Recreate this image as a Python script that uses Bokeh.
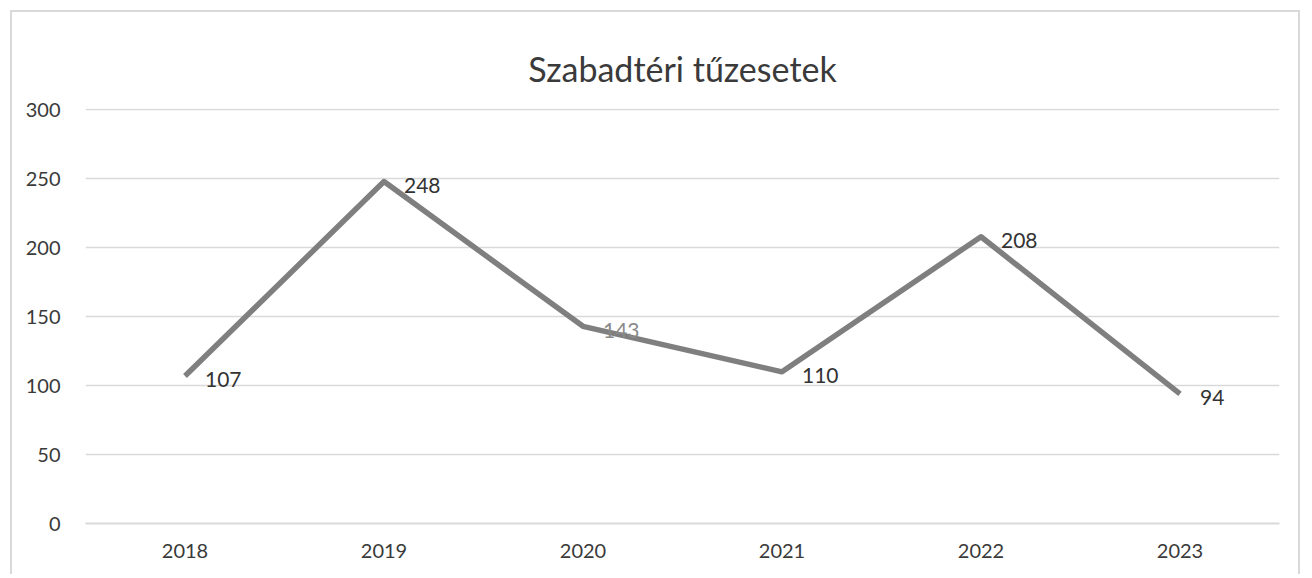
from bokeh.plotting import figure
from bokeh.models import ColumnDataSource, FixedTicker, Range1d
from bokeh.embed import file_html
from bokeh.resources import INLINE
from bokeh.core.properties import value

years = ["2018", "2019", "2020", "2021", "2022", "2023"]
fires = [107, 248, 143, 110, 208, 94]
label_text = ["107", "248", "143", "110", "208", "94"]
label_colors = ["#333333", "#333333", "#8a8a8a", "#333333", "#333333", "#333333"]
y_ticks = [0, 50, 100, 150, 200, 250, 300]
title_text = "Szabadtéri tűzesetek"

src = ColumnDataSource(dict(x=years, y=fires, t=label_text, c=label_colors))

FONT = "Lato"
p = figure(x_range=years, y_range=Range1d(0, 301), width=1290, height=564,
           output_backend="svg", toolbar_location=None,
           min_border_left=73, min_border_right=23, min_border_top=96, min_border_bottom=53)
p.margin = (10, 0, 0, 10)
p.styles = {"border-top": "2px solid #d9d9d9", "border-left": "2px solid #d9d9d9",
            "border-right": "2px solid #d9d9d9"}
p.outline_line_color = None
p.background_fill_color = "white"
p.border_fill_color = "white"

p.title.text = title_text
p.title.align = "center"
p.title.vertical_align = "top"
p.title.text_font = FONT
p.title.text_font_style = "normal"
p.title.text_font_size = "34px"
p.title.text_color = "#3a3a3a"
p.title.standoff = 35

p.line("x", "y", source=src, line_color="#7f7f7f", line_width=5.5, line_join="round")
p.text("x", "y", text="t", source=src, text_color="c", text_font=value(FONT),
       text_font_size="21px", text_align="left", text_baseline="middle",
       x_offset=20, y_offset=4)

p.yaxis.ticker = FixedTicker(ticks=y_ticks)
for ax in (p.xaxis, p.yaxis):
    ax.major_label_text_font = FONT
    ax.major_label_text_font_size = "20px"
    ax.major_label_text_color = "#3a3a3a"
    ax.major_tick_line_color = None
    ax.minor_tick_line_color = None
p.yaxis.axis_line_color = None
p.xaxis.axis_line_color = "#d9d9d9"
p.xaxis.axis_line_width = 2
p.yaxis.major_label_standoff = 19
p.xaxis.major_label_standoff = 14
p.xgrid.grid_line_color = None
p.ygrid.grid_line_color = "#d9d9d9"
p.ygrid.grid_line_width = 1.5

open("out.html", "w").write(file_html(p, INLINE))
